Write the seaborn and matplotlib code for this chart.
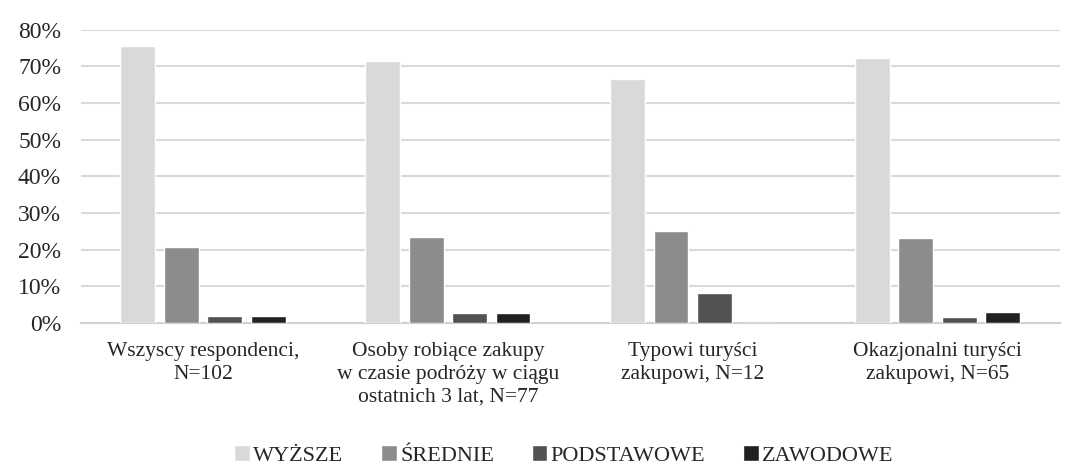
import matplotlib
matplotlib.use('Agg')
import matplotlib.pyplot as plt
from matplotlib.ticker import PercentFormatter
import seaborn as sns
import pandas as pd

# ─── Dane ─────────────────────────────────────────────────────────────────────
groups = ['Wszyscy respondenci,\nN=102',
          'Osoby robiące zakupy\nw czasie podróży w ciągu\nostatnich 3 lat, N=77',
          'Typowi turyści\nzakupowi, N=12',
          'Okazjonalni turyści\nzakupowi, N=65']
levels = ['WYŻSZE', 'ŚREDNIE', 'PODSTAWOWE', 'ZAWODOWE']
wyzsze = [75.5, 71.4, 66.7, 72.3]
srednie = [20.6, 23.4, 25.0, 23.1]
podstawowe = [2.0, 2.6, 8.3, 1.5]
zawodowe = [2.0, 2.6, 0.0, 3.1]
colors = ['#d9d9d9', '#8c8c8c', '#525252', '#212121']

df = pd.DataFrame({'grupa': groups, 'WYŻSZE': wyzsze, 'ŚREDNIE': srednie,
                   'PODSTAWOWE': podstawowe, 'ZAWODOWE': zawodowe})
df = df.melt(id_vars='grupa', var_name='wykształcenie', value_name='proc')

# ─── Wykres ───────────────────────────────────────────────────────────────────
sns.set_style('white')
plt.rcParams['font.family'] = ['Liberation Serif', 'DejaVu Serif']

fig = plt.figure(figsize=(10.74, 4.66), dpi=100)
ax = fig.add_axes([0.075, 0.307, 0.912, 0.629])

sns.barplot(data=df, x='grupa', y='proc', hue='wykształcenie',
            hue_order=levels, palette=colors, width=0.71, gap=0.2,
            ax=ax, legend=True, zorder=3)

ax.set_ylim(0, 80)
ax.set_yticks(range(0, 81, 10))
ax.yaxis.set_major_formatter(PercentFormatter(decimals=0))
ax.grid(axis='y', color='#d9d9d9', linewidth=1.5, zorder=0)
ax.set_axisbelow(True)
ax.set_xlabel('')
ax.set_ylabel('')
ax.tick_params(axis='y', labelsize=17, length=0, pad=14)
ax.tick_params(axis='x', labelsize=15.5, length=0, pad=14)
for lab in ax.get_xticklabels():
    lab.set_linespacing(1.25)
for s in ['top', 'right', 'left']:
    ax.spines[s].set_visible(False)
ax.spines['bottom'].set_color('#d0d0d0')
ax.spines['bottom'].set_linewidth(1.5)

handles, labels = ax.get_legend_handles_labels()
ax.get_legend().remove()
fig.legend(handles, labels, loc='center', bbox_to_anchor=(0.525, 0.022), ncol=4,
           frameon=False, fontsize=16, handlelength=0.7, handleheight=0.7,
           handletextpad=0.15, columnspacing=1.7)

plt.savefig('out.png', dpi=100)
plt.close()
